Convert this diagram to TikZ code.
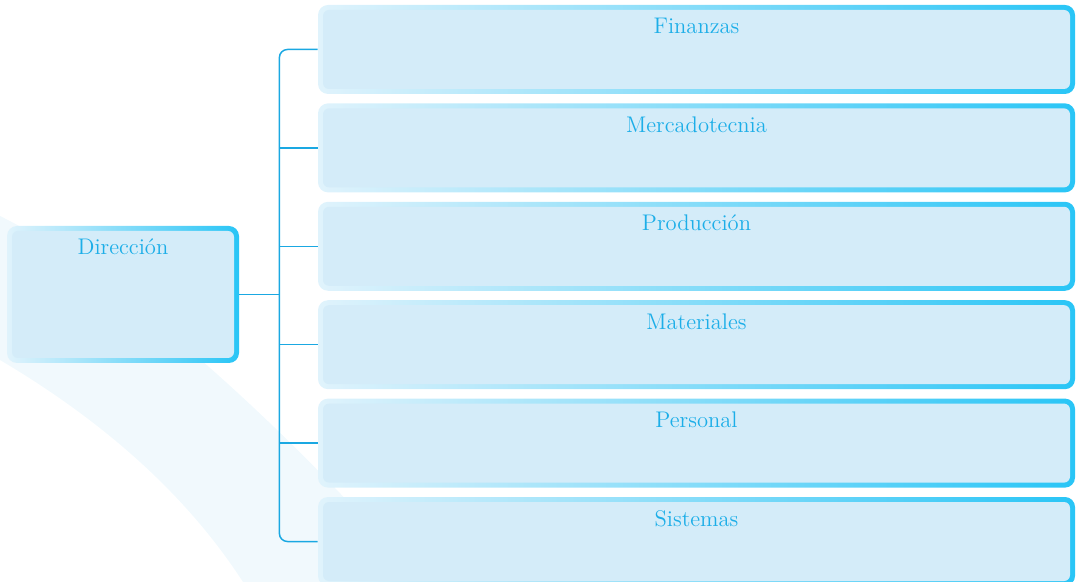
\documentclass[tikz,border=0pt]{standalone}
\usepackage{tikz}
\usetikzlibrary{positioning}

\definecolor{celeste}{HTML}{29C5F6}
\definecolor{celestepalido}{HTML}{E0F3FC}
\definecolor{relleno}{HTML}{D4ECF9}
\definecolor{texto}{HTML}{1CAEE8}
\definecolor{trazo}{HTML}{1AA8E2}
\definecolor{estela}{HTML}{F1F9FD}

\begin{document}
\begin{tikzpicture}[x=0.5pt, y=-0.5pt,
    caja/.style={rectangle, rounded corners=5pt, inner sep=0pt,
        left color=celestepalido, right color=celeste,
        text=texto, font=\fontsize{11.3}{13}\selectfont,
        text height=14.5pt,
        path picture={\fill[relleno, rounded corners=3pt]
            ([xshift=2.5pt,yshift=-2.5pt]path picture bounding box.north west) rectangle
            ([xshift=-2.5pt,yshift=2.5pt]path picture bounding box.south east);}},
    area/.style={caja, minimum width=378.5pt, minimum height=44.5pt, text depth=30pt},
    jefe/.style={caja, minimum width=116pt, minimum height=68.5pt, text depth=54pt},
    linea/.style={draw=trazo, line width=0.75pt}
]
\useasboundingbox (0,0) rectangle (1076,582);

% estela de fondo
\fill[estela] (0,216) .. controls (120,275) and (300,440) .. (420,582)
    -- (243,582) .. controls (190,500) and (110,425) .. (0,360) -- cycle;

\node[jefe] (dir) at (123,294.5) {Dirección};

\node[area] (fin) at (696.5,49.5) {Finanzas};
\node[area, below=4.3pt of fin] (mer) {Mercadotecnia};
\node[area, below=4.3pt of mer] (pro) {Producción};
\node[area, below=4.3pt of pro] (mat) {Materiales};
\node[area, below=4.3pt of mat] (per) {Personal};
\node[area, below=4.3pt of per] (sis) {Sistemas};

\coordinate[right=20pt of dir.east] (eje);

\draw[linea] (dir.east) -- (eje);
\draw[linea, rounded corners=4pt] (fin.west) -| (eje) |- (sis.west);
\foreach \n in {mer,pro,mat,per}
    \draw[linea] (\n.west) -- (\n.west -| eje);
\end{tikzpicture}
\end{document}
